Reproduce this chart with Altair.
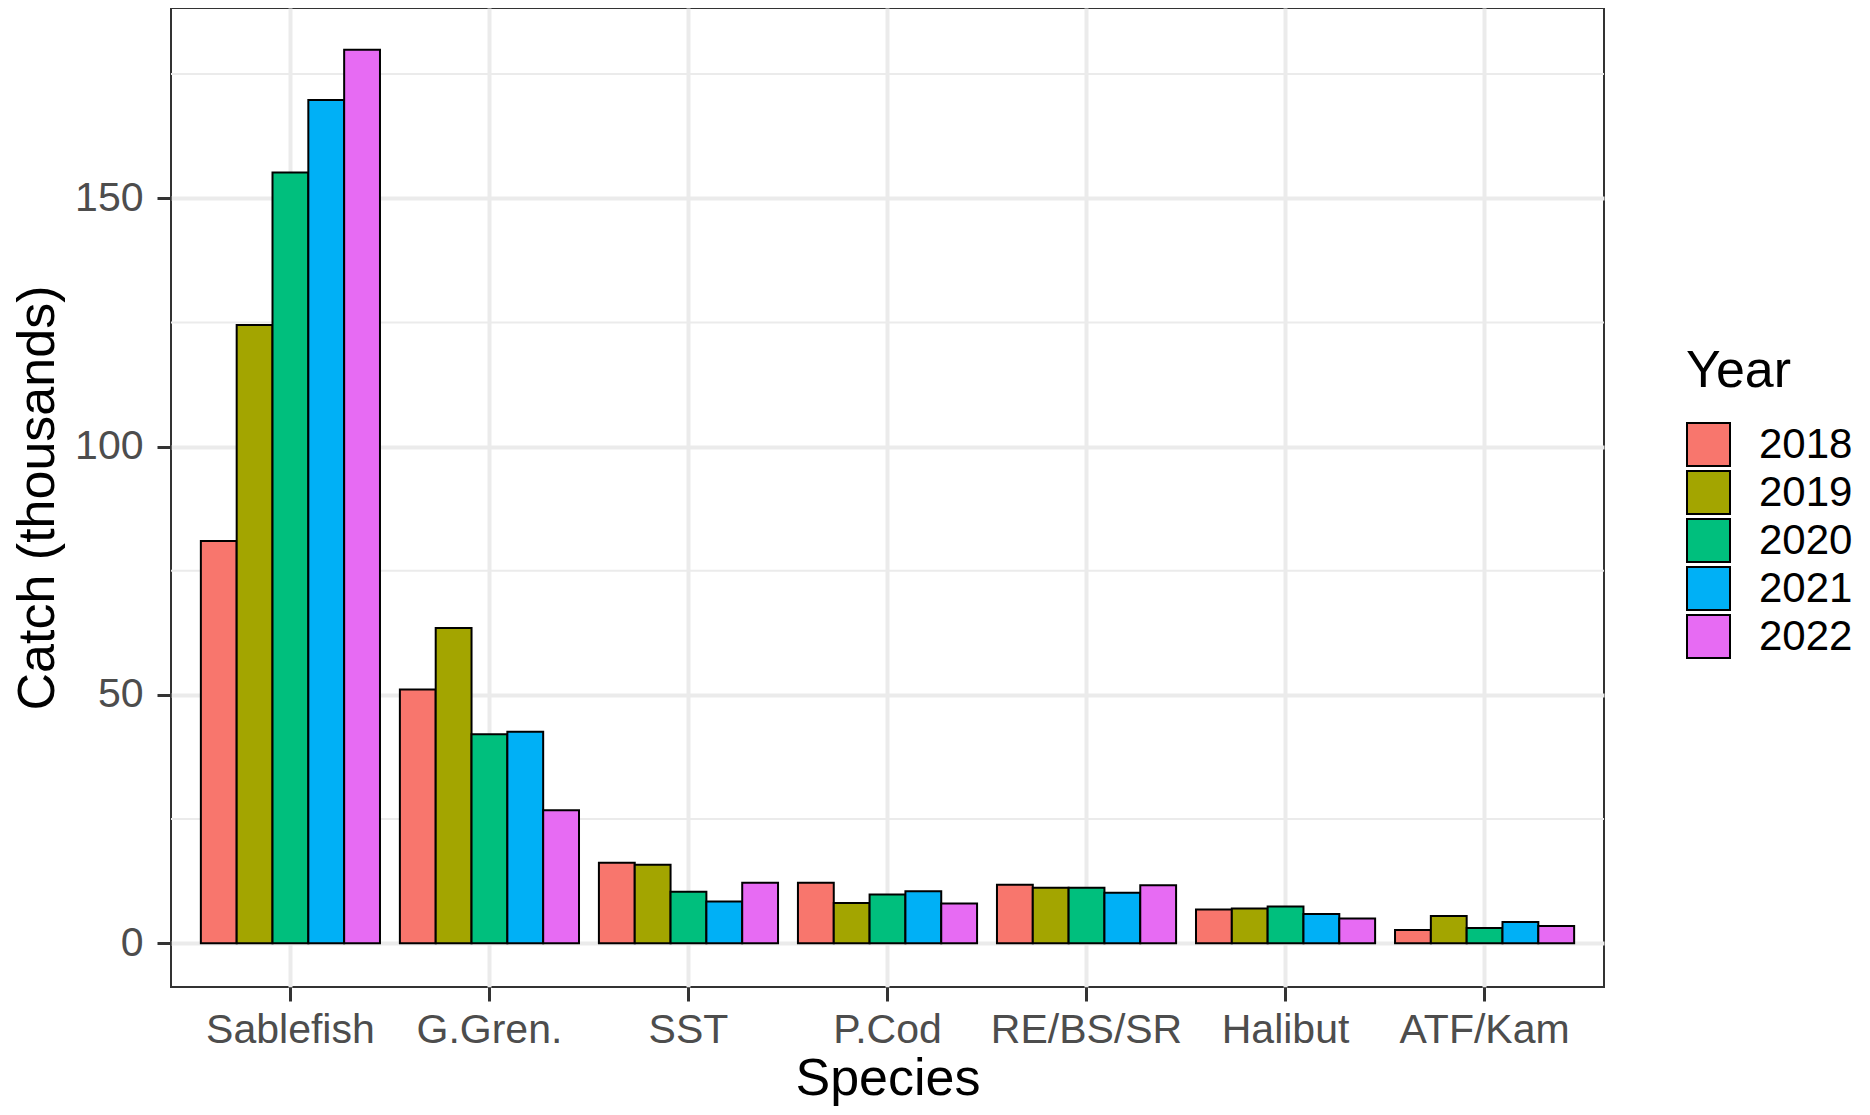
import altair as alt
import pandas as pd

species = ["Sablefish", "G.Gren.", "SST", "P.Cod", "RE/BS/SR", "Halibut", "ATF/Kam"]
years = ["2018", "2019", "2020", "2021", "2022"]
catch_2018 = [81.0, 51.1, 16.2, 12.2, 11.8, 6.8, 2.7]
catch_2019 = [124.5, 63.5, 15.8, 8.1, 11.2, 7.0, 5.5]
catch_2020 = [155.2, 42.1, 10.4, 9.8, 11.2, 7.4, 3.1]
catch_2021 = [169.8, 42.6, 8.4, 10.5, 10.2, 5.9, 4.3]
catch_2022 = [179.9, 26.8, 12.2, 8.0, 11.7, 5.0, 3.5]
colors = ["#F8766D", "#A3A500", "#00BF7D", "#00B0F6", "#E76BF3"]
major_ticks = [0, 50, 100, 150]
minor_ticks = [25, 75, 125, 175]

series = [catch_2018, catch_2019, catch_2020, catch_2021, catch_2022]
rows = []
for yr, vals in zip(years, series):
    for sp, v in zip(species, vals):
        rows.append({"Species": sp, "Year": yr, "Catch": v})
df = pd.DataFrame(rows)
minor_df = pd.DataFrame({"v": minor_ticks})

FONT = "Liberation Sans"
ydom = [-8.8, 188.3]

yscale = alt.Scale(domain=ydom, nice=False, zero=False)

minor = alt.Chart(minor_df).mark_rule(color="#EBEBEB", strokeWidth=2).encode(
    y=alt.Y("v:Q", scale=yscale)
)

bars = alt.Chart(df).mark_bar(stroke="black", strokeWidth=2, opacity=1).encode(
    x=alt.X(
        "Species:N",
        sort=species,
        scale=alt.Scale(paddingInner=0.1, paddingOuter=0.15),
        axis=alt.Axis(
            title="Species",
            labelAngle=0,
            labelFontSize=41,
            labelColor="#4D4D4D",
            labelFont=FONT,
            labelPadding=9,
            labelLimit=0,
            tickSize=14,
            tickWidth=3,
            tickColor="#333333",
            domain=False,
            grid=True,
            gridColor="#EBEBEB",
            gridWidth=4,
            bandPosition=0.5,
            tickExtra=False,
            titleFontSize=52,
            titleFont=FONT,
            titleFontWeight="normal",
            titleColor="black",
            titlePadding=3,
        ),
    ),
    xOffset=alt.XOffset("Year:N", sort=years, scale=alt.Scale(paddingInner=0, paddingOuter=0)),
    y=alt.Y(
        "Catch:Q",
        scale=yscale,
        axis=alt.Axis(
            title="Catch (thousands)",
            values=major_ticks,
            labelFontSize=41,
            labelColor="#4D4D4D",
            labelFont=FONT,
            labelPadding=14,
            tickSize=14,
            tickWidth=3,
            tickColor="#333333",
            domain=False,
            grid=True,
            gridColor="#EBEBEB",
            gridWidth=4,
            titleFontSize=52,
            titleFont=FONT,
            titleFontWeight="normal",
            titleColor="black",
            titlePadding=10,
        ),
    ),
    fill=alt.Fill(
        "Year:N",
        sort=years,
        scale=alt.Scale(domain=years, range=colors),
        legend=alt.Legend(
            title="Year",
            orient="none",
            legendX=1515,
            legendY=338,
            titleFontSize=52,
            titleFont=FONT,
            titleFontWeight="normal",
            titleColor="black",
            titlePadding=24,
            labelFontSize=42,
            labelFont=FONT,
            labelColor="black",
            labelOffset=28,
            symbolType="square",
            symbolSize=1849,
            symbolStrokeColor="black",
            symbolStrokeWidth=2,
            symbolOpacity=1,
            rowPadding=-9,
        ),
    ),
)

chart = (
    alt.layer(minor, bars)
    .properties(
        width=1433,
        height=979,
        autosize=alt.AutoSizeParams(type="none"),
        padding={"left": 163, "top": 0, "right": 250, "bottom": 120},
        background="white",
    )
    .configure_view(stroke="#333333", strokeWidth=2)
)

chart.save("out.html", embed_options={"renderer": "svg", "actions": False})
